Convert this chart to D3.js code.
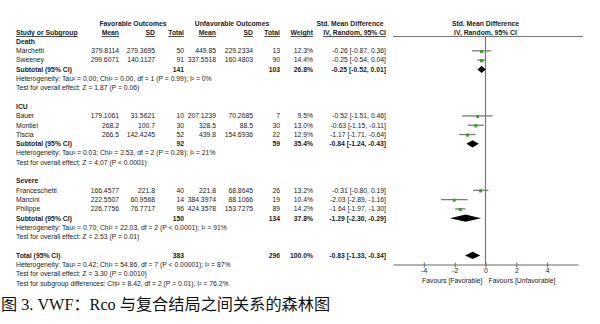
<!DOCTYPE html>
<html><head><meta charset="utf-8">
<script src="https://cdn.jsdelivr.net/npm/d3@7"></script>
<style>body{margin:0;background:#fff}</style>
</head><body><svg id="c" width="600" height="324"></svg>
<script>
// ---- data ----
const groups = ["Death", "ICU", "Severe"];
const studies = ["Marchetti", "Sweeney", "Bauer", "Montiel", "Tiscia", "Franceschetti", "Mancini", "Philippe"];
const studyGroup = [0, 0, 1, 1, 1, 2, 2, 2];
const favMean = ["379.8114", "299.6071", "179.1061", "268.2", "266.5", "166.4577", "222.5507", "226.7756"];
const favSD = ["279.3695", "140.1127", "31.5621", "100.7", "142.4245", "221.8", "60.9568", "76.7717"];
const favN = [50, 91, 10, 30, 52, 40, 14, 96];
const unfMean = ["449.85", "337.5518", "207.1239", "328.5", "439.8", "221.8", "384.3974", "424.3578"];
const unfSD = ["229.2334", "160.4803", "70.2685", "88.5", "154.6936", "68.8645", "88.1066", "153.7275"];
const unfN = [13, 90, 7, 30, 22, 26, 19, 89];
const weight = [12.3, 14.4, 9.5, 13.0, 12.9, 13.2, 10.4, 14.2];
const smd = [-0.26, -0.25, -0.52, -0.63, -1.17, -0.31, -2.03, -1.64];
const ciLow = [-0.87, -0.54, -1.51, -1.15, -1.71, -0.80, -2.89, -1.97];
const ciHigh = [0.36, 0.04, 0.46, -0.11, -0.64, 0.19, -1.16, -1.30];
const subFavN = [141, 92, 150];
const subUnfN = [103, 59, 134];
const subWeight = [26.8, 35.4, 37.8];
const subSmd = [-0.25, -0.84, -1.29];
const subLow = [-0.52, -1.24, -2.30];
const subHigh = [0.01, -0.43, -0.29];
const subHet = [
  "Heterogeneity: Tau² = 0.00; Chi² = 0.00, df = 1 (P = 0.99); I² = 0%",
  "Heterogeneity: Tau² = 0.03; Chi² = 2.53, df = 2 (P = 0.28); I² = 21%",
  "Heterogeneity: Tau² = 0.70; Chi² = 22.03, df = 2 (P < 0.0001); I² = 91%"];
const subTest = [
  "Test for overall effect: Z = 1.87 (P = 0.06)",
  "Test for overall effect: Z = 4.07 (P < 0.0001)",
  "Test for overall effect: Z = 2.53 (P = 0.01)"];
const totalFavN = 383, totalUnfN = 296, totalWeight = 100.0;
const totalSmd = -0.83, totalLow = -1.33, totalHigh = -0.34;
const totalNotes = [
  "Heterogeneity: Tau² = 0.42; Chi² = 54.86, df = 7 (P < 0.00001); I² = 87%",
  "Test for overall effect: Z = 3.30 (P = 0.0010)",
  "Test for subgroup differences: Chi² = 8.42, df = 2 (P = 0.01), I² = 76.2%"];
const axisTicks = [-4, -2, 0, 2, 4];
const axisDomain = [-6, 6];
const favLeft = "Favours [Favorable]", favRight = "Favours [Unfavorable]";
const caption = "图 3. VWF：Rco 与复合结局之间关系的森林图";

// ---- layout ----
const svg = d3.select("#c");
const TXT = "#222";
const FONT = "'Liberation Sans', Arial, sans-serif";
const FS = 6.8;
const x = d3.scaleLinear().domain(axisDomain).range([393, 578]);
const row = d3.scaleLinear().domain([0, 26]).range([41.5, 41.5 + 26 * 9.3]);
const col = {name: 16, fMean: 119, fSD: 155, fN: 184, uMean: 216, uSD: 253, uN: 280, w: 313, ci: 386};
const fmtCI = (m, l, h) => `${m.toFixed(2)} [${l.toFixed(2)}, ${h.toFixed(2)}]`;

function txt(s, px, py, opt = {}) {
  return svg.append("text").attr("x", px).attr("y", py).attr("dy", "0.35em")
    .attr("font-family", FONT).attr("font-size", opt.fs || FS)
    .attr("font-weight", opt.bold ? "bold" : "normal")
    .attr("text-anchor", opt.anchor || "start").attr("fill", TXT).text(s);
}

// header
const h1 = 24, h2 = 33;
txt("Favorable Outcomes", 133, h1, {bold: true, anchor: "middle"});
txt("Unfavorable Outcomes", 232, h1, {bold: true, anchor: "middle"});
txt("Std. Mean Difference", 350, h1, {bold: true, anchor: "middle"});
txt("Std. Mean Difference", x(0), h1, {bold: true, anchor: "middle"});
const hdr = [
  ["Study or Subgroup", col.name, "start"], ["Mean", col.fMean, "end"], ["SD", col.fSD, "end"],
  ["Total", col.fN, "end"], ["Mean", col.uMean, "end"], ["SD", col.uSD, "end"],
  ["Total", col.uN, "end"], ["Weight", col.w, "end"], ["IV, Random, 95% CI", col.ci, "end"]];
hdr.forEach(([s, px, a]) => {
  const t = txt(s, px, h2, {bold: true, anchor: a});
  const w = t.node().getComputedTextLength();
  const x0 = a === "end" ? px - w : px;
  svg.append("line").attr("x1", x0).attr("x2", x0 + w).attr("y1", h2 + 3.5).attr("y2", h2 + 3.5)
    .attr("stroke", TXT).attr("stroke-width", 0.8);
});
txt("IV, Random, 95% CI", x(0), h2, {bold: true, anchor: "middle"});
svg.append("line").attr("x1", 393).attr("x2", 583).attr("y1", 36.5).attr("y2", 36.5)
  .attr("stroke", "#777").attr("stroke-width", 1);

// zero line
svg.append("line").attr("x1", x(0)).attr("x2", x(0)).attr("y1", 36.5).attr("y2", 264.5)
  .attr("stroke", "#777").attr("stroke-width", 1.2);

// rows
const groupStart = [0, 7, 15];
const diamond = (m, l, h, cy) => {
  const hh = 3.6;
  svg.append("path").attr("d", `M${x(l)},${cy}L${x(m)},${cy - hh}L${x(h)},${cy}L${x(m)},${cy + hh}Z`)
    .attr("fill", "#000");
};
groups.forEach((g, gi) => {
  let r = groupStart[gi];
  txt(g, col.name, row(r), {bold: true});
  const idx = studies.map((s, i) => i).filter(i => studyGroup[i] === gi);
  idx.forEach(i => {
    r++;
    const y = row(r);
    txt(studies[i], col.name, y);
    txt(favMean[i], col.fMean, y, {anchor: "end"});
    txt(favSD[i], col.fSD, y, {anchor: "end"});
    txt(String(favN[i]), col.fN, y, {anchor: "end"});
    txt(unfMean[i], col.uMean, y, {anchor: "end"});
    txt(unfSD[i], col.uSD, y, {anchor: "end"});
    txt(String(unfN[i]), col.uN, y, {anchor: "end"});
    txt(weight[i].toFixed(1) + "%", col.w, y, {anchor: "end"});
    txt(fmtCI(smd[i], ciLow[i], ciHigh[i]), col.ci, y, {anchor: "end"});
    svg.append("line").attr("x1", x(ciLow[i])).attr("x2", x(ciHigh[i])).attr("y1", y).attr("y2", y)
      .attr("stroke", "#7a7a7a").attr("stroke-width", 1.3);
    const s = 2.2 + weight[i] / 14;
    svg.append("rect").attr("x", x(smd[i]) - s / 2).attr("y", y - s / 2 + 0.6).attr("width", s).attr("height", s)
      .attr("fill", "#3f9b2f");
  });
  r++;
  let y = row(r);
  txt("Subtotal (95% CI)", col.name, y, {bold: true});
  txt(String(subFavN[gi]), col.fN, y, {anchor: "end", bold: true});
  txt(String(subUnfN[gi]), col.uN, y, {anchor: "end", bold: true});
  txt(subWeight[gi].toFixed(1) + "%", col.w, y, {anchor: "end", bold: true});
  txt(fmtCI(subSmd[gi], subLow[gi], subHigh[gi]), col.ci, y, {anchor: "end", bold: true});
  diamond(subSmd[gi], subLow[gi], subHigh[gi], y);
  txt(subHet[gi], col.name, row(r + 1));
  txt(subTest[gi], col.name, row(r + 2));
});

// total
const ty = row(23);
txt("Total (95% CI)", col.name, ty, {bold: true});
txt(String(totalFavN), col.fN, ty, {anchor: "end", bold: true});
txt(String(totalUnfN), col.uN, ty, {anchor: "end", bold: true});
txt(totalWeight.toFixed(1) + "%", col.w, ty, {anchor: "end", bold: true});
txt(fmtCI(totalSmd, totalLow, totalHigh), col.ci, ty, {anchor: "end", bold: true});
diamond(totalSmd, totalLow, totalHigh, ty);
totalNotes.forEach((s, i) => txt(s, col.name, row(24 + i)));

// axis
const ay = 264.5;
const ax = svg.append("g").attr("transform", `translate(0,${ay})`)
  .call(d3.axisBottom(x).tickValues(axisTicks).tickSize(3).tickSizeOuter(0).tickFormat(d3.format("d")));
ax.select(".domain").attr("stroke", "#666").attr("stroke-width", 1);
ax.selectAll(".tick line").attr("stroke", "#666").attr("y1", -2).attr("y2", 3);
ax.selectAll(".tick text").attr("font-family", FONT).attr("font-size", FS).attr("fill", TXT)
  .attr("y", 4).attr("dy", "0.71em").text(d => d < 0 ? "-" + Math.abs(d) : d);
txt(favLeft, x(0) - 3, 280.5, {anchor: "end"});
txt(favRight, x(0) + 3, 280.5, {anchor: "start"});

// caption
svg.append("text").attr("x", 1).attr("y", 309.5).attr("font-family", "'Liberation Serif', 'Times New Roman', 'Noto Sans CJK SC', serif")
  .attr("font-size", 16.2).attr("fill", "#111").text(caption);
</script></body></html>
